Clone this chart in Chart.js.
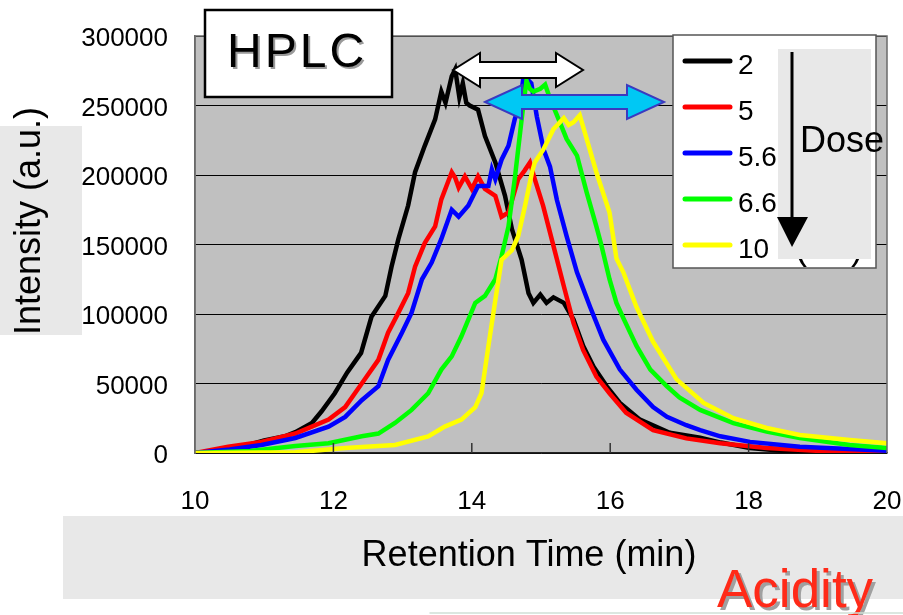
<!DOCTYPE html>
<html>
<head>
<meta charset="utf-8">
<title>HPLC</title>
<script src="https://cdn.jsdelivr.net/npm/chart.js@4.4.0/dist/chart.umd.min.js"></script>
<style>
  html, body { margin: 0; padding: 0; background: #fff; }
  canvas { display: block; }
</style>
</head>
<body>
<canvas id="hplcChart" width="903" height="615"></canvas>
<script>
// Retention time (min) / intensity (a.u.), one pair per dose
const doses = ['2', '5', '5.6', '6.6', '10'];

const t2 = [10.0, 10.5, 11.0, 11.3, 11.45, 11.69, 11.83, 12.02, 12.2, 12.4, 12.55, 12.75, 12.84, 12.94, 13.08, 13.18, 13.32, 13.47, 13.56, 13.62, 13.71, 13.76, 13.82, 13.87, 13.92, 13.97, 14.09, 14.19, 14.34, 14.48, 14.58, 14.72, 14.82, 14.89, 14.99, 15.08, 15.18, 15.33, 15.47, 15.61, 15.76, 15.95, 16.14, 16.43, 16.86, 17.3, 17.6, 18.02, 18.5, 19.0, 20.0];
const v2 = [0, 2000, 9000, 12000, 15000, 21600, 30000, 43000, 58000, 72000, 98000, 113000, 134000, 154000, 178000, 202000, 221000, 240000, 260000, 252000, 271000, 276000, 256000, 266000, 252000, 250000, 247000, 228000, 209000, 185000, 161000, 139000, 115000, 108000, 114000, 108000, 112000, 108000, 96000, 77000, 62000, 48000, 36000, 24000, 14500, 11000, 7500, 3600, 1500, 500, 0];

const t5 = [10.0, 10.48, 10.96, 11.45, 11.93, 12.17, 12.41, 12.65, 12.79, 12.94, 13.08, 13.18, 13.32, 13.47, 13.56, 13.71, 13.76, 13.81, 13.9, 14.0, 14.09, 14.19, 14.34, 14.43, 14.53, 14.67, 14.76, 14.84, 14.91, 15.03, 15.18, 15.33, 15.47, 15.61, 15.8, 15.99, 16.23, 16.62, 17.1, 17.59, 18.26, 19.2, 20.0];
const v5 = [0, 4500, 8000, 14000, 24000, 33000, 50000, 67000, 86500, 101000, 115000, 134000, 151000, 163000, 182500, 202000, 198000, 191000, 199000, 190000, 199000, 190000, 185000, 170000, 173000, 197000, 203000, 209000, 197000, 178000, 149000, 120000, 93500, 74000, 55000, 43000, 29000, 16500, 10500, 7000, 3600, 1000, 500];

const t56 = [10.0, 10.5, 10.96, 11.45, 11.93, 12.17, 12.41, 12.65, 12.79, 12.99, 13.13, 13.28, 13.42, 13.56, 13.71, 13.81, 13.95, 14.09, 14.24, 14.29, 14.34, 14.43, 14.53, 14.62, 14.7, 14.74, 14.8, 14.86, 14.94, 15.04, 15.13, 15.23, 15.37, 15.52, 15.71, 15.9, 16.14, 16.38, 16.62, 16.82, 17.1, 17.3, 17.59, 18.02, 18.74, 20.0];
const v56 = [0, 2500, 5800, 10800, 19000, 26000, 38000, 48000, 67000, 86500, 101000, 125000, 137000, 154000, 175000, 170000, 178000, 192000, 192000, 204000, 197000, 211000, 221000, 240000, 252000, 268000, 269000, 266000, 242000, 218000, 206000, 182000, 156000, 130000, 105000, 81500, 60000, 45500, 33000, 26000, 20000, 16500, 12000, 8000, 4500, 1700];

const t66 = [10.0, 10.8, 11.45, 11.93, 12.41, 12.65, 12.89, 13.13, 13.37, 13.56, 13.71, 13.85, 14.05, 14.19, 14.34, 14.43, 14.53, 14.62, 14.72, 14.79, 14.84, 14.89, 14.99, 15.06, 15.13, 15.23, 15.37, 15.52, 15.66, 15.8, 15.87, 15.99, 16.09, 16.19, 16.38, 16.58, 16.82, 17.0, 17.3, 17.78, 18.26, 18.74, 19.46, 20.0];
const v66 = [0, 1500, 5000, 7000, 12000, 14000, 21600, 31000, 43000, 60000, 69500, 84000, 108000, 113000, 125000, 141500, 163000, 197000, 240000, 268000, 262000, 260000, 262000, 265000, 255000, 243000, 226000, 214000, 187500, 163000, 150000, 125000, 108000, 97000, 77000, 60000, 48000, 40000, 31000, 21500, 15400, 10800, 5800, 3600];

const t10 = [10.0, 11.45, 12.17, 12.89, 13.37, 13.61, 13.85, 14.05, 14.14, 14.24, 14.34, 14.43, 14.58, 14.67, 14.77, 14.87, 14.91, 15.03, 15.18, 15.33, 15.4, 15.47, 15.56, 15.66, 15.8, 15.99, 16.09, 16.19, 16.38, 16.62, 16.96, 17.35, 17.78, 18.26, 18.74, 19.46, 20.0];
const v10 = [0, 500, 3600, 5800, 12000, 19000, 24000, 33000, 43000, 77000, 110000, 139000, 146000, 156000, 178000, 202000, 209000, 218000, 233000, 241000, 236000, 238000, 243000, 226000, 202000, 173000, 140000, 130000, 105000, 80000, 53000, 36000, 25000, 18000, 13000, 9400, 7000];

const xTickMarks = [12, 14, 16, 18];

const FONT = '"Liberation Sans", Arial, sans-serif';
const seriesColors = ['#000000', '#ff0000', '#0000ff', '#00ff00', '#ffff00'];
const times = [t2, t5, t56, t66, t10];
const values = [v2, v5, v56, v66, v10];

const datasets = doses.map((d, i) => ({
    label: d,
    data: times[i].map((t, j) => ({ x: t, y: values[i][j] })),
    borderColor: seriesColors[i],
    borderWidth: 4.5,
    pointRadius: 0,
    tension: 0,
    fill: false,
    order: doses.length - i, // later doses drawn on top
}));

function doubleArrow(ctx, x1, x2, y, headLen, headHalf, shaftHalf, fill, stroke) {
    ctx.beginPath();
    ctx.moveTo(x1, y);
    ctx.lineTo(x1 + headLen, y - headHalf);
    ctx.lineTo(x1 + headLen, y - shaftHalf);
    ctx.lineTo(x2 - headLen, y - shaftHalf);
    ctx.lineTo(x2 - headLen, y - headHalf);
    ctx.lineTo(x2, y);
    ctx.lineTo(x2 - headLen, y + headHalf);
    ctx.lineTo(x2 - headLen, y + shaftHalf);
    ctx.lineTo(x1 + headLen, y + shaftHalf);
    ctx.lineTo(x1 + headLen, y + headHalf);
    ctx.closePath();
    ctx.fillStyle = fill;
    ctx.fill();
    ctx.lineWidth = 2;
    ctx.lineJoin = 'miter';
    ctx.strokeStyle = stroke;
    ctx.stroke();
}

const decorations = {
    id: 'decorations',
    beforeDraw(chart) {
        const { ctx, chartArea: a } = chart;
        ctx.save();
        ctx.fillStyle = '#fff';
        ctx.fillRect(0, 0, chart.width, chart.height);
        // title backgrounds
        ctx.fillStyle = '#e8e8e8';
        ctx.fillRect(0, 126, 82, 209);
        ctx.fillRect(63, 516, 840, 83);
        // plot area
        ctx.fillStyle = '#c0c0c0';
        ctx.fillRect(a.left, a.top, a.right - a.left, a.bottom - a.top);
        ctx.restore();
    },
    afterDraw(chart) {
        const { ctx, chartArea: a, scales } = chart;
        ctx.save();

        // frame of the plot area
        ctx.strokeStyle = '#6a6a6a';
        ctx.lineWidth = 1.5;
        ctx.beginPath();
        ctx.moveTo(a.left, a.bottom);
        ctx.lineTo(a.left, a.top);
        ctx.lineTo(a.right, a.top);
        ctx.lineTo(a.right, a.bottom);
        ctx.stroke();

        // inward tick marks on the x axis
        ctx.strokeStyle = '#333';
        ctx.lineWidth = 1.5;
        xTickMarks.forEach(v => {
            const x = scales.x.getPixelForValue(v);
            ctx.beginPath();
            ctx.moveTo(x, a.bottom);
            ctx.lineTo(x, a.bottom - 10);
            ctx.stroke();
        });

        // axis titles
        ctx.fillStyle = '#000';
        ctx.font = '36px ' + FONT;
        ctx.textAlign = 'center';
        ctx.textBaseline = 'alphabetic';
        ctx.fillText('Retention Time (min)', 529, 566);
        ctx.save();
        ctx.translate(40, 221);
        ctx.rotate(-Math.PI / 2);
        ctx.fillText('Intensity (a.u.)', 0, 0);
        ctx.restore();

        // HPLC label box
        ctx.fillStyle = '#fff';
        ctx.fillRect(205, 10, 187, 87);
        ctx.strokeStyle = '#000';
        ctx.lineWidth = 2.5;
        ctx.strokeRect(205, 10, 187, 87);
        ctx.save();
        ctx.font = '48px ' + FONT;
        ctx.letterSpacing = '3px';
        ctx.textAlign = 'left';
        ctx.shadowColor = '#9a9a9a';
        ctx.shadowOffsetX = 2;
        ctx.shadowOffsetY = 2;
        ctx.fillStyle = '#000';
        ctx.fillText('HPLC', 227, 67);
        ctx.restore();

        // peak shift arrows
        doubleArrow(ctx, 453, 583, 70, 27, 17, 8, '#ffffff', '#000000');
        doubleArrow(ctx, 485, 664, 102, 37, 17, 7, '#00c8f4', '#3a3ac0');

        // legend
        ctx.fillStyle = '#fff';
        ctx.fillRect(673, 35, 203, 233);
        ctx.strokeStyle = '#555';
        ctx.lineWidth = 1.5;
        ctx.strokeRect(673, 35, 203, 233);

        // unit brackets partly hidden behind the dose panel
        ctx.save();
        ctx.beginPath();
        ctx.rect(673, 258, 203, 9);
        ctx.clip();
        ctx.fillStyle = '#000';
        ctx.font = '36px ' + FONT;
        ctx.textAlign = 'left';
        ctx.fillText('(', 795, 259);
        ctx.fillText(')', 851, 259);
        ctx.restore();

        ctx.fillStyle = '#e8e8e8';
        ctx.fillRect(778, 49, 93, 210);

        ctx.strokeStyle = '#000';
        ctx.lineWidth = 3;
        ctx.beginPath();
        ctx.moveTo(792, 52);
        ctx.lineTo(792, 220);
        ctx.stroke();
        ctx.fillStyle = '#000';
        ctx.beginPath();
        ctx.moveTo(777, 217);
        ctx.lineTo(808, 217);
        ctx.lineTo(792, 247);
        ctx.closePath();
        ctx.fill();

        ctx.font = '36px ' + FONT;
        ctx.textAlign = 'left';
        ctx.fillText('Dose', 800, 152);

        ctx.font = '28px ' + FONT;
        doses.forEach((d, i) => {
            const y = 61 + i * 46;
            ctx.strokeStyle = seriesColors[i];
            ctx.lineWidth = 5;
            ctx.lineCap = 'round';
            ctx.beginPath();
            ctx.moveTo(685, y);
            ctx.lineTo(730, y);
            ctx.stroke();
            ctx.fillStyle = '#000';
            ctx.fillText(d, 738, y + 12.5);
        });

        // Acidity
        ctx.save();
        ctx.font = '53px ' + FONT;
        ctx.textAlign = 'left';
        ctx.shadowColor = '#a0a0a0';
        ctx.shadowOffsetX = 3;
        ctx.shadowOffsetY = 3;
        ctx.fillStyle = '#ff2a18';
        ctx.fillText('Acidity', 717, 607);
        ctx.restore();

        // faint rule at the bottom edge
        ctx.strokeStyle = '#cfdfd6';
        ctx.lineWidth = 1.5;
        ctx.beginPath();
        ctx.moveTo(430, 613);
        ctx.lineTo(903, 613);
        ctx.stroke();

        ctx.restore();
    }
};

const ctx = document.getElementById('hplcChart').getContext('2d');
const hplcChart = new Chart(ctx, {
    type: 'line',
    data: { datasets: datasets },
    options: {
        responsive: false,
        animation: false,
        events: [],
        layout: { padding: { left: 0, top: 36, right: 16, bottom: 0 } },
        plugins: {
            legend: { display: false },
            tooltip: { enabled: false },
        },
        scales: {
            x: {
                type: 'linear',
                min: 10,
                max: 20,
                ticks: {
                    stepSize: 2,
                    color: '#000',
                    padding: 33,
                    maxRotation: 0,
                    font: { family: FONT, size: 26 },
                    callback: v => String(v),
                },
                grid: { display: false, drawTicks: false },
                border: { display: true, color: '#222', width: 1.5 },
                afterFit: s => {
                    s.height = 162;
                    s.paddingLeft = 0;
                    s.paddingRight = 0;
                },
            },
            y: {
                min: 0,
                max: 300000,
                ticks: {
                    stepSize: 50000,
                    color: '#000',
                    padding: 27,
                    labelOffset: 3,
                    font: { family: FONT, size: 26 },
                    callback: v => String(v),
                },
                grid: { color: '#000', lineWidth: 1, drawTicks: false },
                border: { display: true, color: '#6a6a6a', width: 1.5 },
                afterFit: s => {
                    s.width = 195;
                    s.paddingTop = 0;
                    s.paddingBottom = 0;
                },
            },
        },
    },
    plugins: [decorations],
});
</script>
</body>
</html>
